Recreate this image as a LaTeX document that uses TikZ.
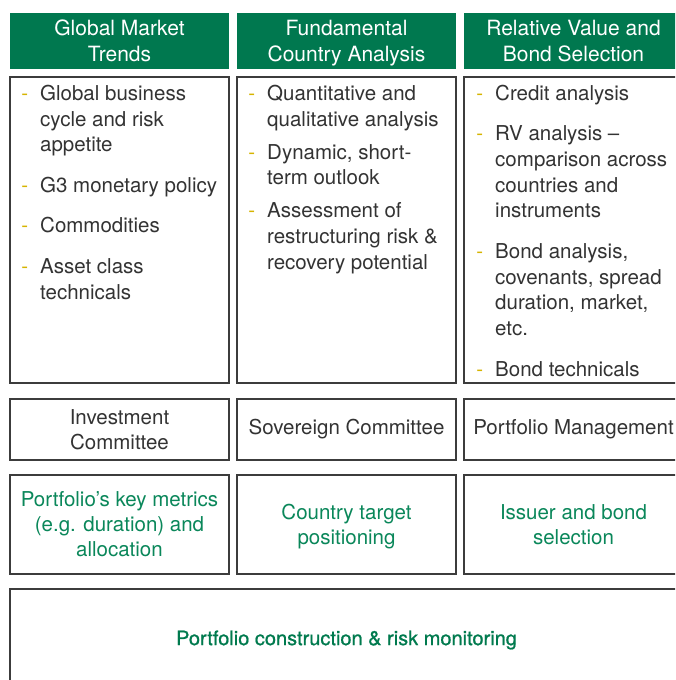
\documentclass[tikz,border=0pt]{standalone}
\usepackage{fontspec}
\setmainfont{TeX Gyre Heros}
\newfontfamily\heavyfont[FakeBold=0.8]{TeX Gyre Heros}
\usetikzlibrary{positioning}
\definecolor{HeadGreen}{HTML}{00784F}
\definecolor{TextGreen}{HTML}{0A875A}
\definecolor{DeepGreen}{HTML}{007A4E}
\definecolor{BulletGold}{HTML}{D6B400}
\definecolor{TextDark}{HTML}{333333}
\definecolor{FrameGray}{HTML}{3C3C3C}
\newcommand{\itemdash}{\makebox[0pt][r]{\textcolor{BulletGold}{-}\hspace{12pt}}}
\tikzset{
  headbox/.style={fill=HeadGreen,text=white,minimum width=219pt,minimum height=56pt,inner sep=0pt,outer sep=0pt,align=center,font=\fontsize{21}{26}\selectfont},
  listbox/.style={draw=FrameGray,line width=1.1pt,minimum width=219pt,minimum height=306pt,inner sep=0pt,outer sep=0pt},
  listtext/.style={anchor=north west,inner sep=0pt,align=left,text=TextDark,font=\fontsize{20.5}{25.7}\selectfont},
  committeebox/.style={draw=FrameGray,line width=1.1pt,minimum width=219pt,minimum height=61pt,inner sep=0pt,outer sep=0pt,align=center,text=TextDark,font=\fontsize{20.5}{25}\selectfont},
  outcomebox/.style={committeebox,minimum height=99pt,text=TextGreen},
  basebox/.style={draw=FrameGray,line width=1.1pt,minimum width=673pt,minimum height=102pt,inner sep=0pt,outer sep=0pt,text=DeepGreen,font=\heavyfont\fontsize{20}{24}\selectfont}
}
\begin{document}
\begin{tikzpicture}[x=1pt,y=-1pt,node distance=8pt and 8pt]
\fill[white] (0,0) rectangle (675,680);
\useasboundingbox (0,0) rectangle (675,680);
\clip (0,0) rectangle (675,680);
\node[headbox,anchor=north west] (trendshead) at (10,13) {Global Market\\Trends};
\node[headbox,right=of trendshead] (countryhead) {Fundamental\\\smash{Country Analysis}};
\node[headbox,right=of countryhead] (valuehead) {Relative Value and\\Bond Selection};
\node[listbox,below=of trendshead] (trendslist) {};
\node[listbox,below=of countryhead] (countrylist) {};
\node[listbox,below=of valuehead] (valuelist) {};
\node[listtext] (trendsitems) at ([shift={(30,8)}]trendslist.north west)
  {\itemdash Global business\\cycle and risk\\appetite\\[14.5pt]\itemdash G3 monetary policy\\[15pt]\itemdash Commodities\\[15pt]\itemdash Asset class\\technicals};
\node[listtext] (countryitems) at ([shift={(30,8)}]countrylist.north west)
  {\itemdash Quantitative and\\qualitative analysis\\[7.3pt]\itemdash Dynamic, short-\\term outlook\\[7.3pt]\itemdash Assessment of\\restructuring risk \&\\recovery potential};
\node[listtext] (valueitems) at ([shift={(31,8)}]valuelist.north west)
  {\itemdash Credit analysis\\[14.5pt]\itemdash RV analysis –\\comparison across\\countries and\\instruments\\[15pt]\itemdash Bond analysis,\\covenants, spread\\duration, market,\\etc.\\[15pt]\itemdash Bond technicals};
\node[committeebox,below=16pt of trendslist] (investcom) {Investment\\Committee};
\node[committeebox,below=16pt of countrylist] (sovcom) {Sovereign Committee};
\node[committeebox,below=16pt of valuelist] (pmcom) {Portfolio Management};
\node[outcomebox,below=15pt of investcom] (metrics) {Portfolio’s key metrics\\(e.g. duration) and\\allocation};
\node[outcomebox,below=15pt of sovcom] (countrytarget) {Country target\\\smash{positioning}};
\node[outcomebox,below=15pt of pmcom] (issuersel) {Issuer and bond\\selection};
\node[basebox,below=15pt of metrics.south west,anchor=north west] (construction) {Portfolio construction \& risk monitoring};
\end{tikzpicture}
\end{document}
